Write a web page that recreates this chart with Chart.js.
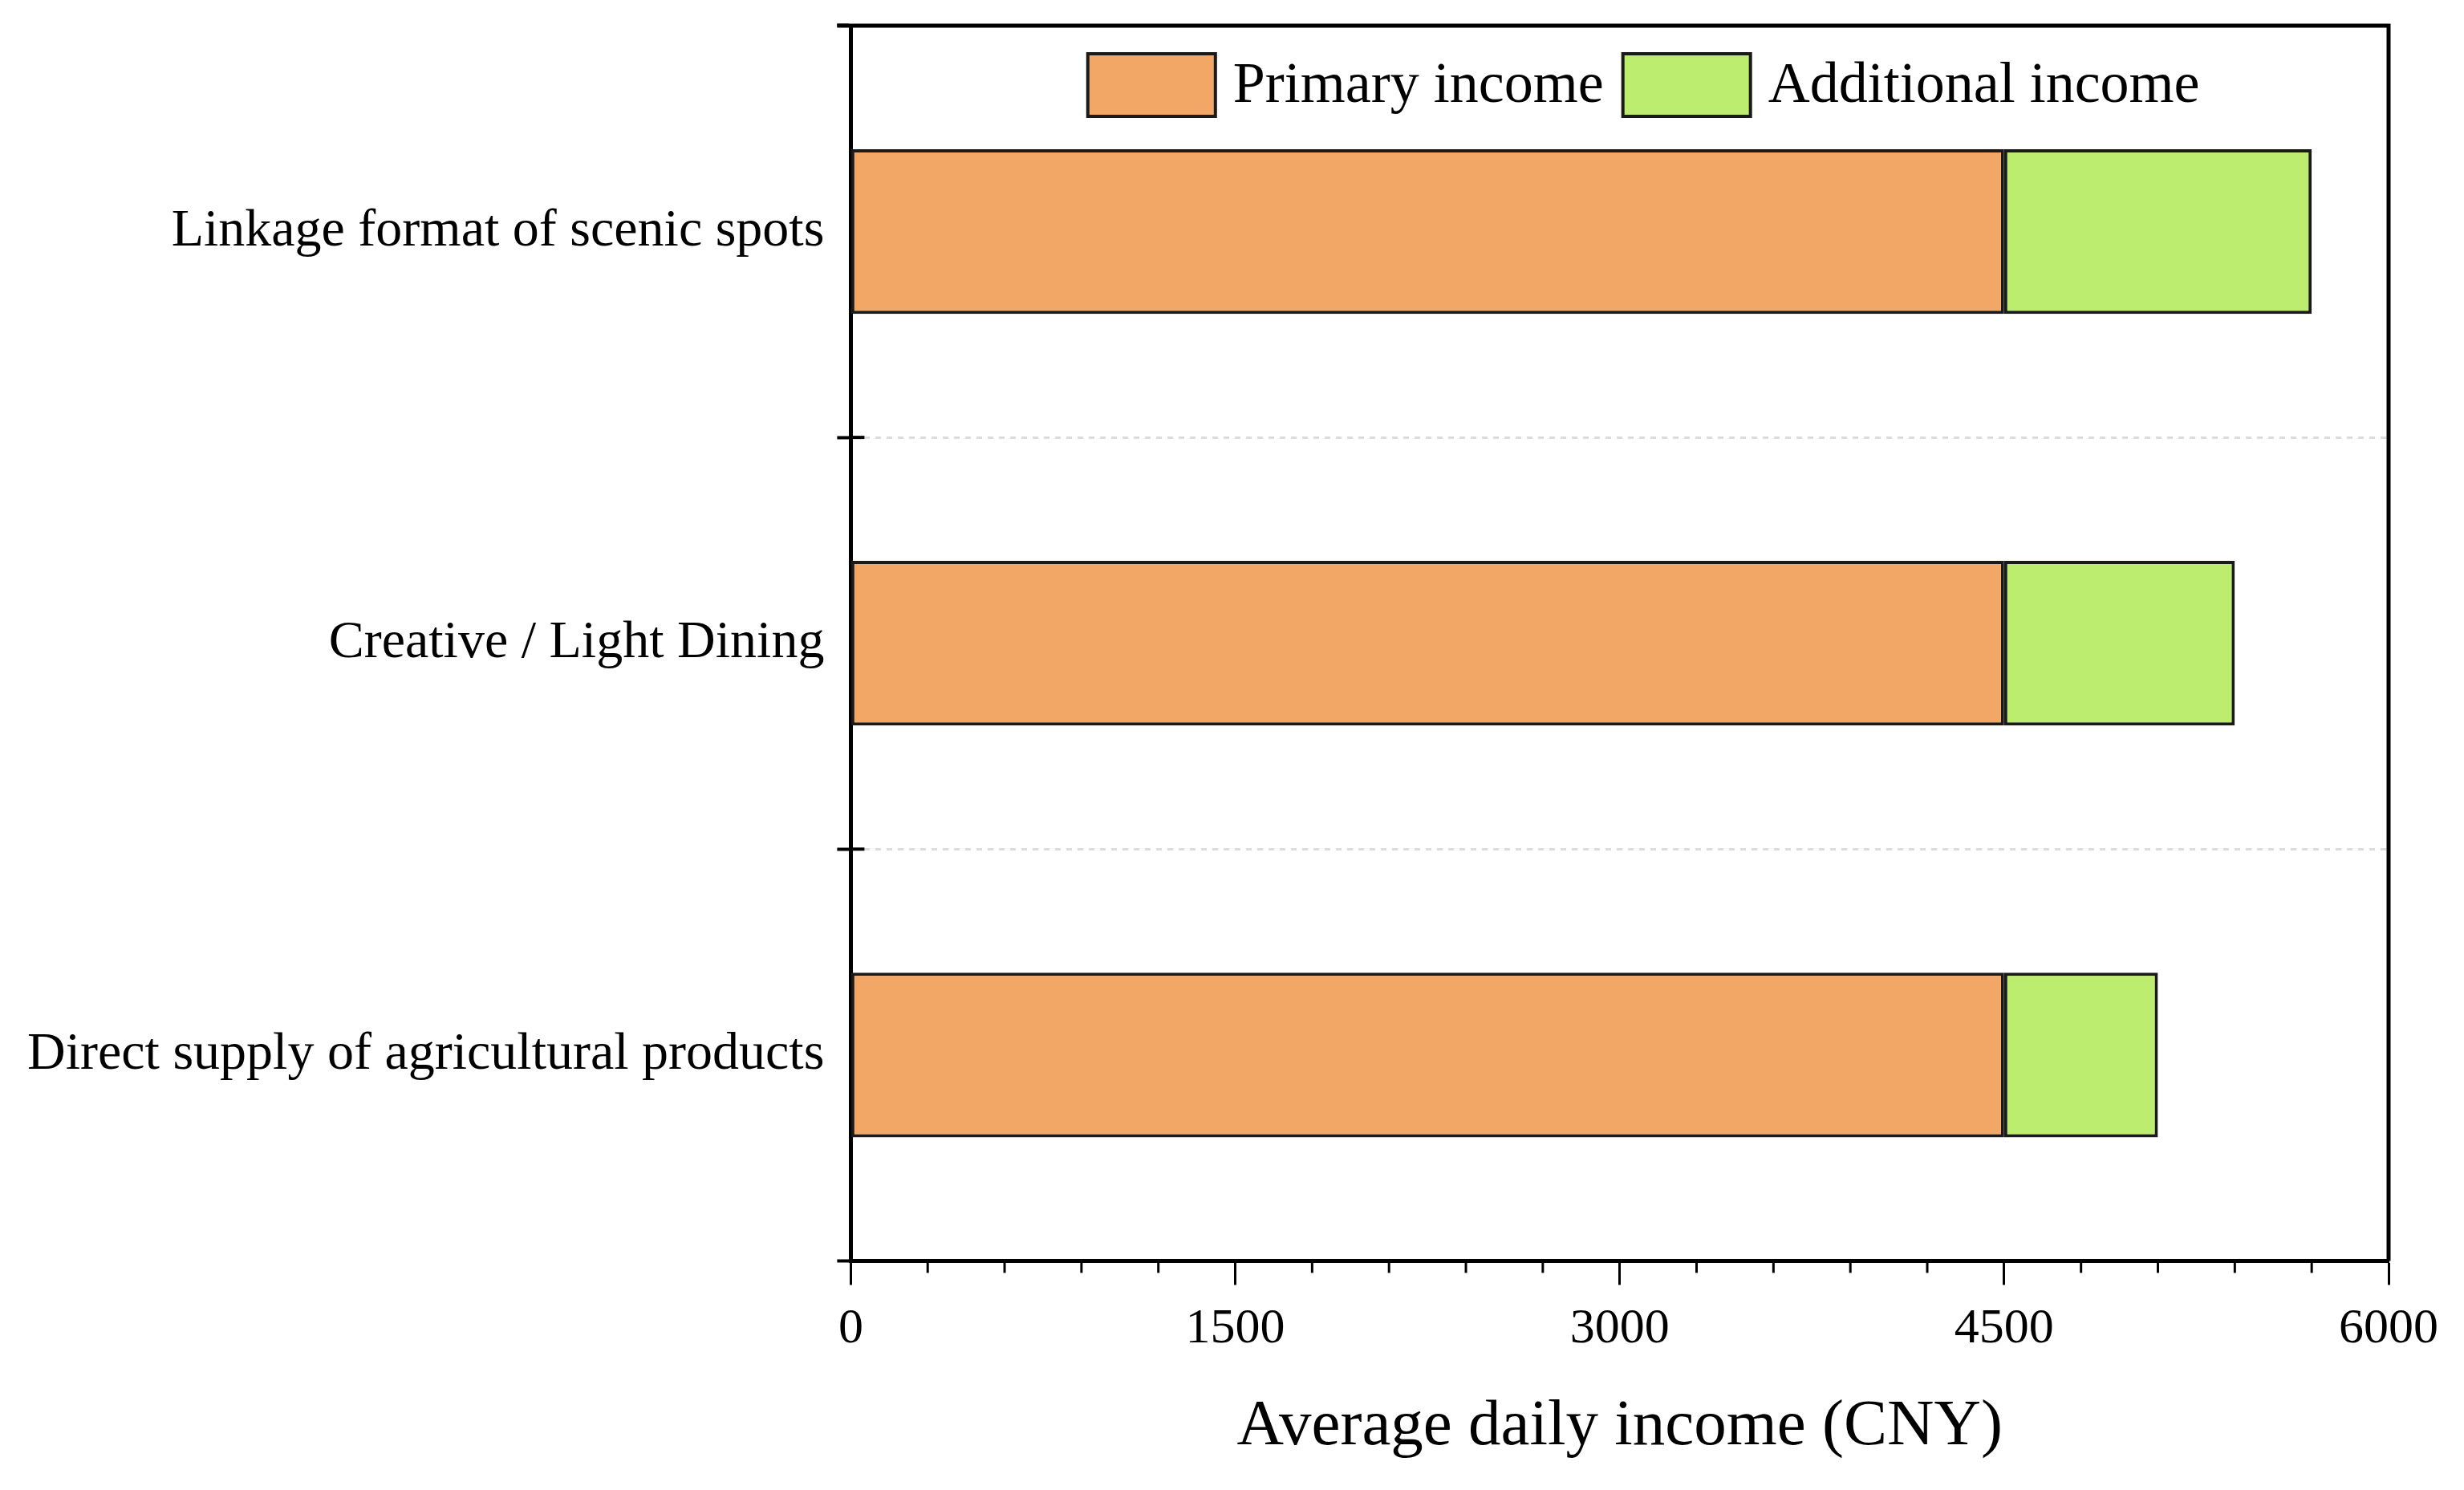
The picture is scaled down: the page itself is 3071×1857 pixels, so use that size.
<!DOCTYPE html>
<html>
<head>
<meta charset="utf-8">
<title>Average daily income</title>
<script src="https://cdn.jsdelivr.net/npm/chart.js@4.4.1/dist/chart.umd.min.js"></script>
<style>
  html, body { margin: 0; padding: 0; background: #fff; }
  #wrap { width: 3071px; height: 1857px; position: relative; }
</style>
</head>
<body>
<div id="wrap"><canvas id="incomeChart"></canvas></div>
<script>
// Chart data
const categories = ["Linkage format of scenic spots", "Creative / Light Dining", "Direct supply of agricultural products"]
const primaryIncome = [4500, 4500, 4500]
const additionalIncome = [1200, 900, 600]
const xTicks = [0, 1500, 3000, 4500, 6000]
const xMinorStep = 300

const serif = "'Liberation Serif', 'Times New Roman', serif"

// Frame (top/right border), minor x ticks, inward y ticks and the legend inside the plot
const framePlugin = {
  id: "frame",
  afterDraw(chart) {
    const { ctx, chartArea, scales } = chart
    ctx.save()
    ctx.strokeStyle = "#000"
    ctx.lineWidth = 5
    ctx.beginPath()
    ctx.moveTo(chartArea.left - 17, chartArea.top)
    ctx.lineTo(chartArea.right, chartArea.top)
    ctx.lineTo(chartArea.right, chartArea.bottom)
    ctx.stroke()

    // minor ticks on x
    ctx.lineWidth = 3
    const xs = scales.x
    for (let v = 0; v <= xs.max; v += xMinorStep) {
      if (v % 1500 === 0) continue
      const px = xs.getPixelForValue(v)
      ctx.beginPath()
      ctx.moveTo(px, chartArea.bottom)
      ctx.lineTo(px, chartArea.bottom + 15)
      ctx.stroke()
    }

    // inward part of y ticks
    ctx.lineWidth = 4
    const ys = scales.y
    for (let i = 0; i < categories.length - 1; i++) {
      const py = ys.getPixelForValue(i + 0.5)
      ctx.beginPath()
      ctx.moveTo(chartArea.left, py)
      ctx.lineTo(chartArea.left + 17, py)
      ctx.stroke()
    }

    // legend
    const boxW = 159, boxH = 78, gap = 22, itemGap = 24
    ctx.font = "72px " + serif
    ctx.textBaseline = "middle"
    const items = chart.data.datasets.map((ds) => ({
      label: ds.label,
      fill: ds.backgroundColor,
      w: boxW + gap + ctx.measureText(ds.label).width,
    }))
    const total = items.reduce((s, it) => s + it.w, 0) + itemGap * (items.length - 1)
    let x = (chartArea.left + chartArea.right) / 2 + 30 - total / 2
    const top = chartArea.top + 35
    items.forEach((it) => {
      ctx.fillStyle = it.fill
      ctx.fillRect(x, top, boxW, boxH)
      ctx.lineWidth = 4
      ctx.strokeStyle = "#1a1a1a"
      ctx.strokeRect(x, top, boxW, boxH)
      ctx.fillStyle = "#000"
      ctx.fillText(it.label, x + boxW + gap, top + boxH / 2 + 2)
      x += it.w + itemGap
    })
    ctx.restore()
  },
}

const ctx = document.getElementById("incomeChart").getContext("2d")
new Chart(ctx, {
  type: "bar",
  data: {
    labels: categories,
    datasets: [
      {
        label: "Primary income",
        data: primaryIncome,
        backgroundColor: "#F3A766",
        borderColor: "#1a1a1a",
        borderWidth: 4,
        borderSkipped: false,
        barPercentage: 0.4,
        categoryPercentage: 1,
      },
      {
        label: "Additional income",
        data: additionalIncome,
        backgroundColor: "#BDED6F",
        borderColor: "#1a1a1a",
        borderWidth: 4,
        borderSkipped: false,
        barPercentage: 0.4,
        categoryPercentage: 1,
      },
    ],
  },
  options: {
    indexAxis: "y",
    responsive: true,
    maintainAspectRatio: false,
    devicePixelRatio: 1,
    animation: false,
    layout: { padding: { left: 18, right: 94, top: 32, bottom: 30 } },
    plugins: {
      tooltip: { enabled: false },
      legend: { display: false },
    },
    scales: {
      x: {
        stacked: true,
        min: 0,
        max: 6000,
        afterBuildTicks: (scale) => {
          scale.ticks = xTicks.map((v) => ({ value: v }))
        },
        grid: {
          drawOnChartArea: false,
          drawTicks: true,
          tickLength: 30,
          tickColor: "#000",
          tickWidth: 3,
        },
        border: { display: true, color: "#000", width: 5 },
        ticks: {
          color: "#000",
          font: { family: serif, size: 62 },
          padding: 18,
          maxRotation: 0,
          callback: (value) => String(value),
        },
        title: {
          display: true,
          text: "Average daily income (CNY)",
          color: "#000",
          font: { family: serif, size: 81 },
          padding: { top: 18, bottom: 0 },
        },
      },
      y: {
        stacked: true,
        offset: true,
        afterFit: (scale) => {
          // labels sit at band centres, so no overflow padding is needed
          scale.paddingTop = 0
          scale.paddingBottom = 0
        },
        grid: {
          offset: true,
          color: "#dcdcdc",
          lineWidth: 3,
          tickColor: "#000",
          tickWidth: 4,
          tickLength: 17,
        },
        border: { display: true, color: "#000", width: 5, dash: [7, 7] },
        ticks: {
          color: "#000",
          font: { family: serif, size: 66 },
          padding: 16,
        },
      },
    },
  },
  plugins: [framePlugin],
})
</script>
</body>
</html>
